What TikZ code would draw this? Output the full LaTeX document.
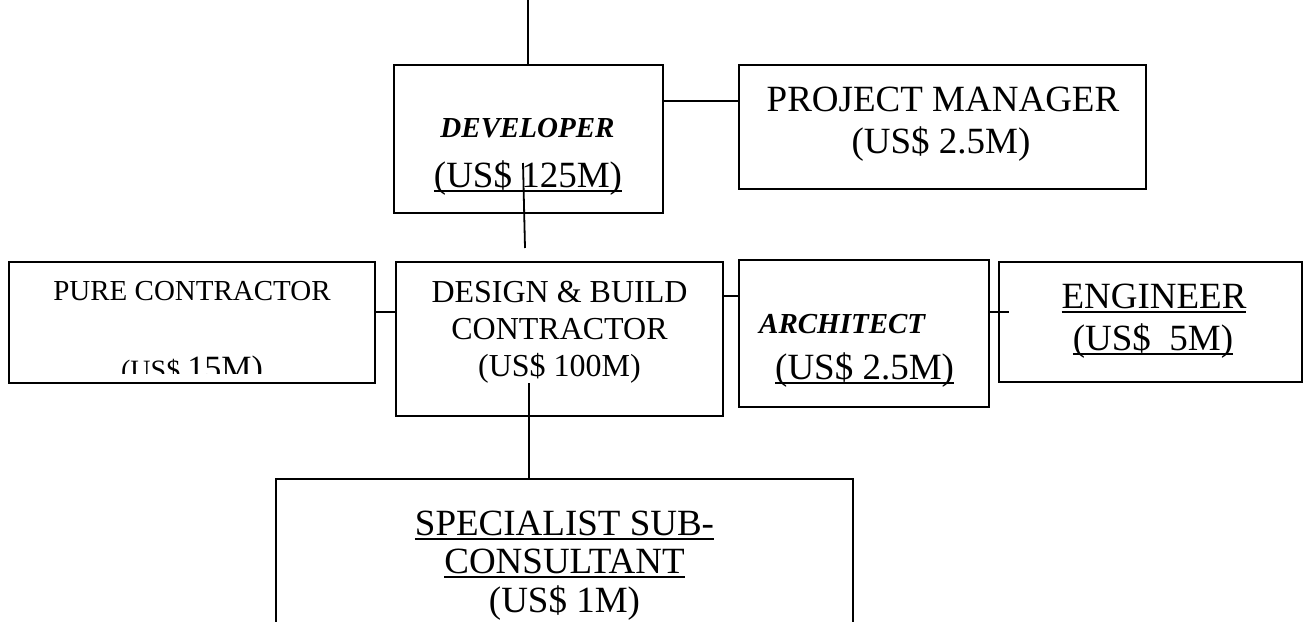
\documentclass[tikz,border=0pt]{standalone}
\usepackage{fontspec}
\setmainfont{Liberation Serif}
\newcommand\ulx[1]{\sbox0{#1}\rlap{\rule[-0.14em]{\wd0}{0.06em}}\usebox0}
\newcommand\fsz[1]{\fontsize{#1}{#1}\selectfont}
\begin{document}
\begin{tikzpicture}[x=1pt,y=-1pt,
  box/.style={draw,line width=2.2pt,rectangle,inner sep=0pt},
  conn/.style={line width=1.8pt},
  txt/.style={anchor=base,inner sep=0pt}]
\useasboundingbox (0,0) rectangle (1311,621);
\clip (0,0) rectangle (1311,621);
% boxes
\node[box,minimum width=269pt,minimum height=148pt] (dev) at (528.5,139) {};
\node[box,minimum width=407pt,minimum height=124pt] (pm) at (942.5,127) {};
\node[box,minimum width=366pt,minimum height=121pt] (pc) at (192,322.5) {};
\node[box,minimum width=327pt,minimum height=154pt] (db) at (559.5,339) {};
\node[box,minimum width=250pt,minimum height=147pt] (arch) at (864,333.5) {};
\node[box,minimum width=303pt,minimum height=120pt] (eng) at (1150.5,322) {};
\node[box,minimum width=577pt,minimum height=181pt] (spec) at (564.5,569.5) {};
% texts
\node[txt] (devT1) at (527.5,137) {\fsz{29}\bfseries\itshape DEVELOPER};
\node[txt] (devT2) at (528,187) {\fsz{37}\ulx{(US\$ 125M)}};
\node[txt] (pmT1) at (943,111) {\fsz{37}PROJECT MANAGER};
\node[txt] (pmT2) at (941,153) {\fsz{37}(US\$ 2.5M)};
\node[txt] (pcT1) at (192,300) {\fsz{29}PURE CONTRACTOR};
\begin{scope}
\clip (9,262) rectangle (375,373);
\node[txt] (pcT2) at (192,379) {{\fsz{28}(US\$ }{\fsz{34}15M)}};
\end{scope}
\node[txt] (dbT1) at (559.5,302) {\fsz{32}DESIGN \& BUILD};
\node[txt] (dbT2) at (559.5,339) {\fsz{32}CONTRACTOR};
\node[txt] (dbT3) at (559.5,376) {\fsz{32}(US\$ 100M)};
\node[txt,anchor=base west] (archT1) at (759,333) {\fsz{29}\bfseries\itshape ARCHITECT};
\node[txt,anchor=base west] (archT2) at (775,379) {\fsz{37}\ulx{(US\$ 2.5M)}};
\node[txt] (engT1) at (1154,308) {\fsz{37}\ulx{ENGINEER}};
\node[txt] (engT2) at (1153,350) {\fsz{37}\ulx{(US\$~~5M)}};
\node[txt] (specT1) at (564.5,535) {\fsz{37}\ulx{SPECIALIST SUB-}};
\node[txt] (specT2) at (564.5,573) {\fsz{37}\ulx{CONSULTANT}};
\node[txt] (specT3) at (564.5,612) {\fsz{37}(US\$ 1M)};
% connectors
\coordinate (topEnd) at (528,0);
\draw[conn] (topEnd) -- (topEnd |- dev.north);
\coordinate (yDP) at (0,101);
\draw[conn] (dev.east |- yDP) -- (pm.west |- yDP);
\coordinate (devIn) at (523,163);
\coordinate (devOut) at (525,248);
\draw[conn] (devIn) -- (devOut);
\coordinate (yPD) at (0,312);
\draw[conn] (pc.east |- yPD) -- (db.west |- yPD);
\coordinate (yDA) at (0,296);
\draw[conn] (db.east |- yDA) -- (arch.west |- yDA);
\coordinate (engIn) at (1009,312);
\draw[conn] (arch.east |- engIn) -- (engIn);
\coordinate (dbIn) at (529,383);
\draw[conn] (dbIn) -- (dbIn |- spec.north);
\end{tikzpicture}
\end{document}
